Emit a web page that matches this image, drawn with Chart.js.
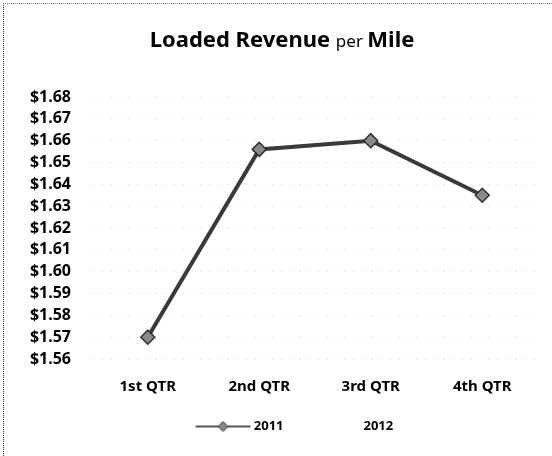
<!DOCTYPE html>
<html lang="en">
<head>
  <meta charset="UTF-8">
  <title>Loaded Revenue per Mile</title>
  <script src="https://cdn.jsdelivr.net/npm/chart.js"></script>
  <style>
    html, body { margin: 0; padding: 0; background: #fff; }
    #wrap { position: relative; width: 552px; height: 456px; }
    #wrap::before { content: ''; position: absolute; left: 3px; top: 3px; right: 0; bottom: 0;
      border-left: 1px dotted #333; border-top: 1px dotted #777; pointer-events: none; }
  </style>
</head>
<body>
  <div id="wrap"><canvas id="chart" width="552" height="456"></canvas></div>

  <script>
    // data
    const quarters = ['1st QTR', '2nd QTR', '3rd QTR', '4th QTR'];
    const revenue2011 = [1.570, 1.656, 1.660, 1.635];
    const revenue2012 = [null, null, null, null];
    const seriesNames = ['2011', '2012'];
    const yMin = 1.56, yMax = 1.68, yStep = 0.01;

    const FONT = "'Noto Sans', 'DejaVu Sans', sans-serif";

    // legend swatch: line with a diamond, pushed to the right of a wide box
    function swatch(withMark) {
      const c = document.createElement('canvas');
      c.width = 72; c.height = 12;
      const g = c.getContext('2d');
      if (withMark) {
        const x0 = 16, x1 = 71, xm = (x0 + x1) / 2;
        g.strokeStyle = '#555'; g.lineWidth = 2;
        g.beginPath(); g.moveTo(x0, 6); g.lineTo(x1, 6); g.stroke();
        g.fillStyle = '#888'; g.strokeStyle = '#333'; g.lineWidth = 1;
        g.beginPath(); g.moveTo(xm, 1); g.lineTo(xm + 5, 6); g.lineTo(xm, 11); g.lineTo(xm - 5, 6); g.closePath();
        g.fill(); g.stroke();
      }
      return c;
    }

    // title with mixed weights
    const titlePlugin = {
      id: 'mixedTitle',
      afterLayout(chart) {
        // legend sits a bit right of centre and a little higher in the original
        chart.legend.left += 7;
        chart.legend.right += 7;
        chart.legend.top -= 5;
        chart.legend.bottom -= 5;
      },
      afterDraw(chart) {
        const ctx = chart.ctx;
        const parts = [
          { t: 'Loaded Revenue ', f: 'bold 22px ' + FONT },
          { t: 'per ', f: 'normal 17px ' + FONT },
          { t: 'Mile', f: 'bold 22px ' + FONT }
        ];
        ctx.save();
        let total = 0;
        parts.forEach(p => { ctx.font = p.f; p.w = ctx.measureText(p.t).width; total += p.w; });
        let x = 282 - total / 2;
        ctx.fillStyle = '#000';
        ctx.textBaseline = 'alphabetic';
        parts.forEach(p => { ctx.font = p.f; ctx.fillText(p.t, x, 47); x += p.w; });
        ctx.restore();
      }
    };

    new Chart(document.getElementById('chart'), {
      type: 'line',
      data: {
        labels: quarters,
        datasets: [
          {
            label: seriesNames[0], data: revenue2011,
            borderColor: '#3a3a3a', borderWidth: 4,
            pointStyle: 'rectRot', pointRadius: 7,
            pointBackgroundColor: '#8a8a8a', pointBorderColor: '#333', pointBorderWidth: 1.5,
            tension: 0
          },
          {
            label: seriesNames[1], data: revenue2012,
            borderColor: 'rgba(0,0,0,0)', pointRadius: 0
          }
        ]
      },
      options: {
        responsive: false,
        animation: false,
        layout: { padding: { top: 97, left: 25, right: 14, bottom: 8 } },
        plugins: {
          title: { display: false },
          tooltip: { enabled: false },
          legend: {
            position: 'bottom',
            labels: {
              color: '#000',
              font: { family: FONT, size: 13, weight: 'bold' },
              usePointStyle: true,
              pointStyleWidth: 63.5,
              padding: 10,
              generateLabels: chart => chart.data.datasets.map((ds, i) => ({
                text: ds.label,
                pointStyle: swatch(i === 0),
                fillStyle: 'transparent', strokeStyle: 'transparent', lineWidth: 0,
                hidden: false, datasetIndex: i, fontColor: '#000'
              }))
            }
          }
        },
        scales: {
          x: {
            offset: true,
            grid: { display: false, drawTicks: false },
            border: { display: false },
            ticks: { color: '#000', padding: 19, font: { family: FONT, size: 15, weight: 'bold' } }
          },
          y: {
            min: yMin, max: yMax,
            afterFit: s => { s.width = 67; },
            grid: { color: '#e8e8e8', drawTicks: false, lineWidth: 1 },
            border: { display: false, dash: [2, 7] },
            ticks: {
              stepSize: yStep, padding: 21, color: '#000', autoSkip: false,
              font: { family: FONT, size: 16, weight: 'bold' },
              callback: v => '$' + v.toFixed(2)
            }
          }
        }
      },
      plugins: [titlePlugin]
    });
  </script>
</body>
</html>
